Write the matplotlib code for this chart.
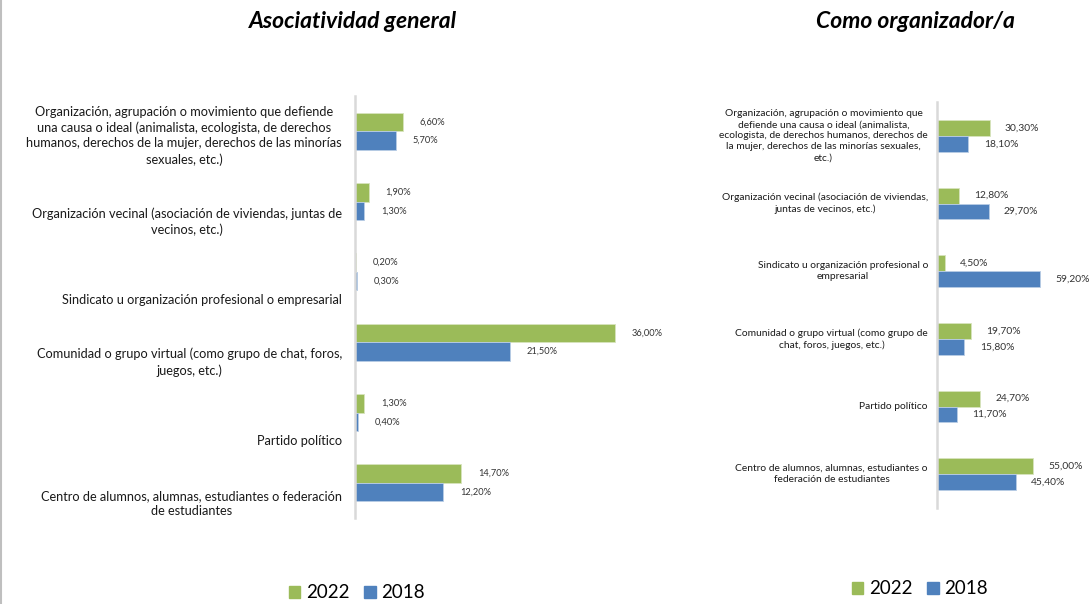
import numpy as np
import matplotlib.pyplot as plt
from matplotlib.patches import Patch
from matplotlib.lines import Line2D

plt.rcParams['font.family'] = ['Lato', 'DejaVu Sans']

# Datos
labels_general = [
    'Organización, agrupación o movimiento que defiende\nuna causa o ideal (animalista, ecologista, de derechos\nhumanos, derechos de la mujer, derechos de las minorías\nsexuales, etc.)',
    'Organización vecinal (asociación de viviendas, juntas de\nvecinos, etc.)',
    'Sindicato u organización profesional o empresarial',
    'Comunidad o grupo virtual (como grupo de chat, foros,\njuegos, etc.)',
    'Partido político',
    'Centro de alumnos, alumnas, estudiantes o federación\nde estudiantes',
]
labels_org = [
    'Organización, agrupación o movimiento que\ndefiende una causa o ideal (animalista,\necologista, de derechos humanos, derechos de\nla mujer, derechos de las minorías sexuales,\netc.)',
    'Organización vecinal (asociación de viviendas,\njuntas de vecinos, etc.)',
    'Sindicato u organización profesional o\nempresarial',
    'Comunidad o grupo virtual (como grupo de\nchat, foros, juegos, etc.)',
    'Partido político',
    'Centro de alumnos, alumnas, estudiantes o\nfederación de estudiantes',
]
general_2022 = [6.6, 1.9, 0.2, 36.0, 1.3, 14.7]
general_2018 = [5.7, 1.3, 0.3, 21.5, 0.4, 12.2]
org_2022 = [30.3, 12.8, 4.5, 19.7, 24.7, 55.0]
org_2018 = [18.1, 29.7, 59.2, 15.8, 11.7, 45.4]

GREEN = '#9BBB59'
BLUE = '#4F81BD'
W, H = 1091, 604


def fmt(v):
    return f'{v:.2f}'.replace('.', ',') + '%'


def px_axes(fig, left, top, right, bottom):
    return fig.add_axes([left / W, 1 - bottom / H, (right - left) / W, (bottom - top) / H])


def draw_panel(ax, labels, v22, v18, xmax, bh, lab_size, val_size, lab_pad, val_pad, label_va, lsp):
    y = np.arange(len(labels))
    ax.barh(y - bh / 2, v22, height=bh, color=GREEN, edgecolor='#D7E4BD', linewidth=0.6)
    ax.barh(y + bh / 2, v18, height=bh, color=BLUE, edgecolor='#B9CDE5', linewidth=0.6)
    ax.set_xlim(0, xmax)
    ax.set_ylim(len(labels) - 0.5, -0.5)
    for s in ['top', 'right', 'bottom']:
        ax.spines[s].set_visible(False)
    ax.spines['left'].set_color('#D9D9D9')
    ax.spines['left'].set_linewidth(1.8)
    ax.set_xticks([])
    ax.set_yticks([])
    for i, lab in enumerate(labels):
        yy = i + 0.49 if label_va == 'bottom' else i
        ax.annotate(lab, xy=(0, yy), xycoords=('axes fraction', 'data'),
                    xytext=(-lab_pad, 0), textcoords='offset points',
                    ha='right', va=label_va, multialignment='center',
                    fontsize=lab_size, color='#1a1a1a', linespacing=lsp)
    for i in range(len(labels)):
        ax.annotate(fmt(v22[i]), xy=(v22[i], i - bh / 2), xytext=(val_pad, 0),
                    textcoords='offset points', ha='left', va='center',
                    fontsize=val_size, color='#333333')
        ax.annotate(fmt(v18[i]), xy=(v18[i], i + bh / 2), xytext=(val_pad, 0),
                    textcoords='offset points', ha='left', va='center',
                    fontsize=val_size, color='#333333')


fig = plt.figure(figsize=(W / 100, H / 100), dpi=100)

ax1 = px_axes(fig, 355, 96, 700, 518)
draw_panel(ax1, labels_general, general_2022, general_2018, 345 / 7.22,
           0.263, 9.2, 6.7, 9.5, 12, 'bottom', 1.35)

ax2 = px_axes(fig, 937, 102, 1091, 508)
draw_panel(ax2, labels_org, org_2022, org_2018, 154 / 1.74,
           0.236, 7.4, 7.4, 6.5, 11, 'center', 1.3)

fig.text(353 / W, 1 - 22 / H, 'Asociatividad general', ha='center', va='center',
         fontsize=16.5, fontweight='bold', fontstyle='italic')
fig.text(915 / W, 1 - 22 / H, 'Como organizador/a', ha='center', va='center',
         fontsize=16.5, fontweight='bold', fontstyle='italic')

handles = [Patch(color=GREEN), Patch(color=BLUE)]
for cx, cy in [(357, 593), (920, 589)]:
    fig.legend(handles, ['2022', '2018'], loc='center', bbox_to_anchor=(cx / W, 1 - cy / H),
               ncol=2, frameon=False, fontsize=13.5, handlelength=0.6, handleheight=0.6,
               handletextpad=0.3, columnspacing=0.8)

fig.add_artist(Line2D([1 / W, 1 / W], [0, 1], color='#BFBFBF', linewidth=1.5))

fig.savefig('out.png', dpi=100)
